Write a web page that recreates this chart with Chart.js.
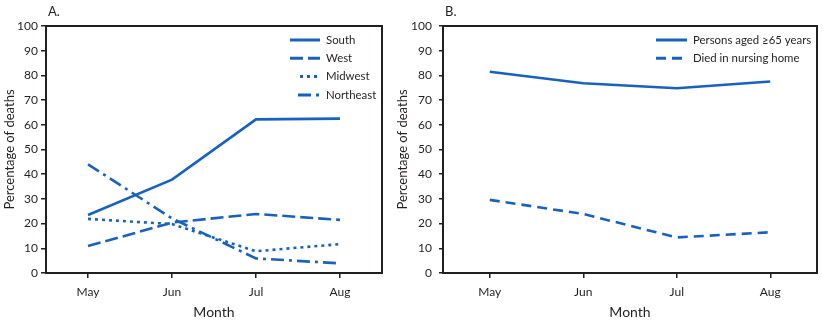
<!DOCTYPE html>
<html>
<head>
<meta charset="utf-8">
<script src="https://cdn.jsdelivr.net/npm/chart.js@4"></script>
<style>
  html, body { margin: 0; padding: 0; background: #fff; }
  #wrap { position: relative; width: 822px; height: 322px; }
  .panel { position: absolute; top: 0; height: 322px; }
  #panelA { left: 0; width: 391px; }
  #panelB { left: 391px; width: 431px; }
</style>
</head>
<body>
<div id="wrap">
  <div class="panel" id="panelA"><canvas id="chartA"></canvas></div>
  <div class="panel" id="panelB"><canvas id="chartB"></canvas></div>
</div>
<script>
  /* ── Data ─────────────────────────────────────────────────────────── */
  const MONTHS = ['May', 'Jun', 'Jul', 'Aug'];
  const Y_TICKS = [0, 10, 20, 30, 40, 50, 60, 70, 80, 90, 100];

  const SOUTH     = [23.5, 37.8, 62.2, 62.5];
  const WEST      = [10.9, 20.4, 23.9, 21.5];
  const MIDWEST   = [21.9, 19.8, 8.8, 11.7];
  const NORTHEAST = [44.0, 22.1, 5.9, 3.9];

  const AGED_65   = [81.5, 76.8, 74.8, 77.5];
  const NURSING   = [29.6, 23.9, 14.4, 16.5];

  /* ── Styling ──────────────────────────────────────────────────────── */
  const BLUE = '#1762c0';
  const INK  = '#231f20';
  const FONT = 'Lato, "Open Sans", sans-serif';

  /* Frame + panel letter + right-aligned legend inside the plot area */
  const framePlugin = {
    id: 'frame',
    afterDraw(chart, args, opts) {
      const { ctx, chartArea: a } = chart;
      ctx.save();
      ctx.strokeStyle = INK;
      ctx.lineWidth = 2;
      ctx.setLineDash([]);
      ctx.strokeRect(a.left, a.top, a.right - a.left, a.bottom - a.top);

      ctx.fillStyle = INK;
      ctx.font = '13px ' + FONT;
      ctx.textBaseline = 'middle';
      ctx.textAlign = 'left';
      ctx.fillText(opts.letter, a.left + 2, 12);

      ctx.font = '11.4px ' + FONT;
      chart.data.datasets.forEach((ds, i) => {
        const y = a.top + 14 + i * 18.3;
        const x1 = a.left + opts.legendX;
        ctx.strokeStyle = ds.borderColor;
        ctx.lineWidth = 3;
        ctx.setLineDash(ds.borderDash || []);
        ctx.beginPath();
        ctx.moveTo(x1 - 6 - (ds.legendLen || 30), y);
        ctx.lineTo(x1 - 6, y);
        ctx.stroke();
        ctx.setLineDash([]);
        ctx.fillStyle = INK;
        ctx.fillText(ds.label, x1, y);
      });
      ctx.restore();
    }
  };

  function series(label, data, dash, legendLen) {
    return {
      label, data,
      borderColor: BLUE,
      borderWidth: 2.6,
      borderDash: dash,
      legendLen,
      pointRadius: 0,
      tension: 0,
      fill: false,
    };
  }

  function makePanel(id, datasets, cfg) {
    return new Chart(document.getElementById(id), {
      type: 'line',
      data: { labels: MONTHS, datasets },
      plugins: [framePlugin],
      options: {
        responsive: true,
        maintainAspectRatio: false,
        animation: false,
        layout: { padding: { top: 26, right: cfg.padRight, bottom: 0, left: 0 } },
        plugins: {
          legend: { display: false },
          tooltip: { enabled: false },
          frame: { letter: cfg.letter, legendX: cfg.legendX },
        },
        scales: {
          x: {
            offset: true,
            grid: { drawOnChartArea: false, tickLength: 5, color: INK, lineWidth: 1.5 },
            border: { display: true, color: INK, width: 2 },
            ticks: { color: INK, font: { family: FONT, size: 12 }, padding: 7 },
            title: {
              display: true, text: 'Month', color: INK,
              font: { family: FONT, size: 14 }, padding: { top: 0, bottom: 1 },
            },
            afterFit: s => { s.height = 49; },
          },
          y: {
            min: 0, max: 100,
            afterBuildTicks: s => { s.ticks = Y_TICKS.map(v => ({ value: v })); },
            grid: { drawOnChartArea: false, tickLength: cfg.tickLen, color: INK, lineWidth: 1.5 },
            border: { display: true, color: INK, width: 2 },
            ticks: { color: INK, font: { family: FONT, size: 12 }, padding: cfg.tickPad },
            title: {
              display: true, text: 'Percentage of deaths', color: INK,
              font: { family: FONT, size: 13 }, padding: { top: cfg.titlePad, bottom: 0 },
            },
            afterFit: s => { s.width = cfg.yWidth; },
          },
        },
      },
    });
  }

  makePanel('chartA', [
    series('South', SOUTH, [], 30),
    series('West', WEST, [13, 5], 30),
    series('Midwest', MIDWEST, [3, 4], 20),
    series('Northeast', NORTHEAST, [13, 5, 3, 5], 22),
  ], { letter: 'A.', padRight: 9, yWidth: 46, tickLen: 5, tickPad: 3, titlePad: 2, legendX: 280 });

  makePanel('chartB', [
    series('Persons aged ≥65 years', AGED_65, [], 31),
    series('Died in nursing home', NURSING, [10, 6], 31),
  ], { letter: 'B.', padRight: 5, yWidth: 52, tickLen: 4, tickPad: 7, titlePad: 4, legendX: 250 });
</script>
</body>
</html>
